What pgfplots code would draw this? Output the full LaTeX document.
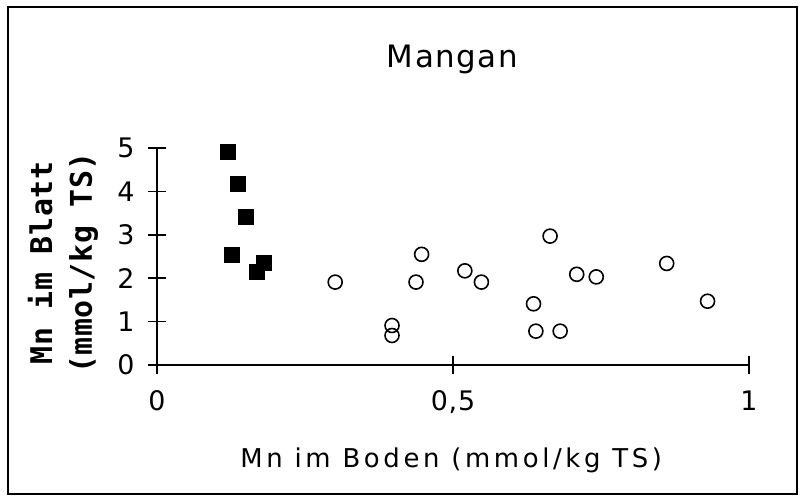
\documentclass[border=0pt]{standalone}
\usepackage{pgfplots}
\pgfplotsset{compat=1.18}
\usepackage{fontspec}
\setmainfont{DejaVu Sans}
\newfontfamily\ylabfont{DejaVu Sans Mono Bold}[LetterSpace=2]
\newfontfamily\widefont{DejaVu Sans}[LetterSpace=14]
\newfontfamily\tickfont{DejaVu Sans}[LetterSpace=3]
\newfontfamily\titlefont{DejaVu Sans}[LetterSpace=5]
\begin{document}
\begin{tikzpicture}
\useasboundingbox (-157bp,-133bp) rectangle (644bp,365bp);
\begin{axis}[
  scale only axis, width=592bp, height=217bp,
  xmin=0, xmax=1, ymin=0, ymax=5,
  axis lines=left, axis line style={-, line width=1.6bp},
  tick align=center, major tick length=18bp,
  tick style={line width=1.6bp, black},
  xtick={0,0.5,1}, xticklabels={0,{0,5},1},
  ytick={0,1,2,3,4,5},
  /pgf/number format/assume math mode=true,
  tick label style={font=\fontsize{27}{30}\selectfont\tickfont},
  xticklabel style={anchor=base, yshift=-36bp},
  yticklabel style={anchor=east, xshift=-10bp},
  title={\titlefont Mangan},
  title style={at={(axis description cs:0.499,1)}, anchor=base, yshift=75bp, font=\fontsize{31}{36}\selectfont},
  xlabel={\widefont Mn im Boden (mmol/kg TS)},
  xlabel style={at={(axis description cs:0.497,0)}, anchor=base, yshift=-102bp, font=\fontsize{26}{30}\selectfont},
  ylabel={Mn im Blatt\\(mmol/kg TS)},
  every axis y label/.style={at={(axis description cs:-0.159,0.47)}, rotate=90, anchor=center, align=center, font=\fontsize{30}{40}\selectfont\ylabfont},
  clip=false,
]
\addplot[only marks, mark=square*, mark size=7.5bp, black] coordinates {
  (0.119,4.91) (0.136,4.17) (0.150,3.42) (0.127,2.54) (0.168,2.16) (0.181,2.35)
};
\addplot[only marks, mark=o, mark size=7bp, black, mark options={line width=1.6bp}] coordinates {
  (0.301,1.91) (0.447,2.55) (0.4375,1.91) (0.520,2.17) (0.548,1.91)
  (0.397,0.91) (0.397,0.68)
  (0.664,2.97) (0.709,2.09) (0.742,2.03) (0.636,1.41) (0.640,0.78) (0.681,0.78)
  (0.861,2.34) (0.930,1.47)
};
\end{axis}
\draw[line width=1.8bp] (-149bp,358bp) rectangle (640bp,-129bp);
\end{tikzpicture}
\end{document}
